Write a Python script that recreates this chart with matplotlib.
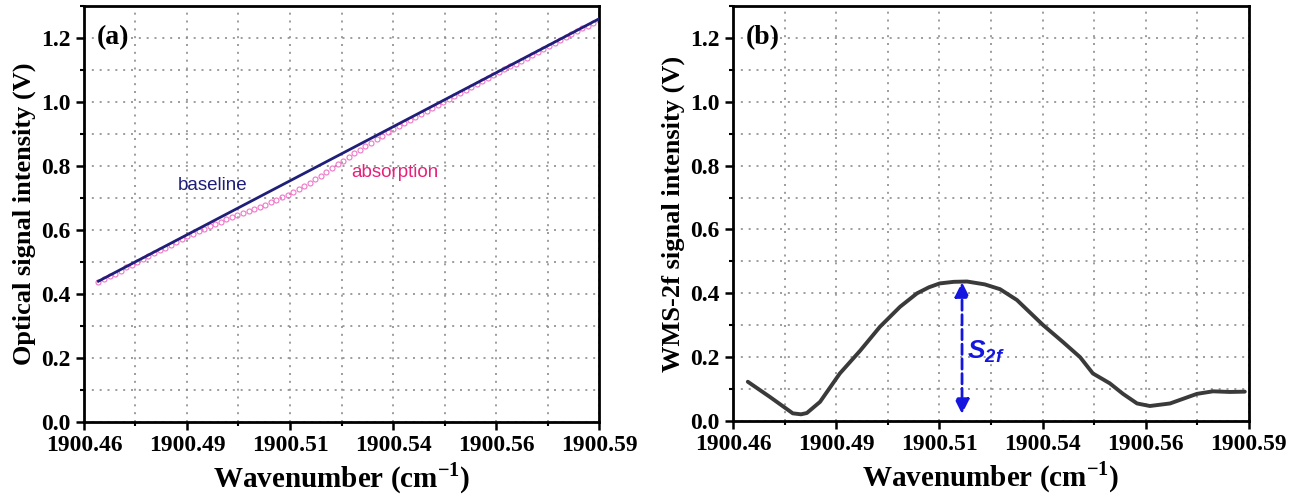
import numpy as np
import matplotlib
matplotlib.use('Agg')
import matplotlib.pyplot as plt
from matplotlib.ticker import FixedLocator, MultipleLocator, FormatStrFormatter

plt.rcParams['font.family'] = 'Liberation Serif'
plt.rcParams['font.weight'] = 'bold'
plt.rcParams['axes.labelweight'] = 'bold'
plt.rcParams['mathtext.fontset'] = 'custom'
plt.rcParams['mathtext.rm'] = 'Liberation Serif:bold'
plt.rcParams['mathtext.sf'] = 'Liberation Sans:italic'
plt.rcParams['mathtext.bf'] = 'Liberation Sans:italic:bold'

# x tick positions and their printed labels
xticks = [1900.4625, 1900.4875, 1900.5125, 1900.5375, 1900.5625, 1900.5875]
xlabels = ['1900.46', '1900.49', '1900.51', '1900.54', '1900.56', '1900.59']

# (a) baseline (straight line) and absorption signal
base_x = [1900.466, 1900.5875]
base_y = [0.44, 1.26]
abs_x = np.linspace(1900.466, 1900.5875, 91)
abs_y = [0.437, 0.446, 0.455, 0.464, 0.473, 0.483, 0.492, 0.501, 0.510, 0.518,
         0.527, 0.536, 0.545, 0.553, 0.563, 0.572, 0.580, 0.589, 0.596, 0.604,
         0.612, 0.619, 0.626, 0.634, 0.641, 0.647, 0.654, 0.660, 0.666, 0.673,
         0.679, 0.686, 0.694, 0.702, 0.710, 0.719, 0.728, 0.738, 0.747, 0.758,
         0.769, 0.781, 0.793, 0.805, 0.816, 0.828, 0.840, 0.851, 0.862, 0.873,
         0.885, 0.895, 0.905, 0.915, 0.925, 0.935, 0.944, 0.954, 0.963, 0.973,
         0.982, 0.991, 1.001, 1.010, 1.019, 1.028, 1.037, 1.046, 1.056, 1.065,
         1.075, 1.084, 1.093, 1.102, 1.111, 1.120, 1.129, 1.139, 1.148, 1.157,
         1.166, 1.175, 1.184, 1.193, 1.202, 1.211, 1.221, 1.230, 1.239, 1.248,
         1.257]

# (b) WMS-2f signal
wms_x = [1900.4661, 1900.4715, 1900.4770, 1900.4790, 1900.4804, 1900.4836,
         1900.4884, 1900.4933, 1900.4981, 1900.5030, 1900.5071, 1900.5100,
         1900.5126, 1900.5160, 1900.5192, 1900.5235, 1900.5272, 1900.5313,
         1900.5376, 1900.5424, 1900.5466, 1900.5497, 1900.5538, 1900.5570,
         1900.5604, 1900.5635, 1900.5684, 1900.5749, 1900.5788, 1900.5829,
         1900.5865]
wms_y = [0.123, 0.075, 0.024, 0.021, 0.025, 0.060,
         0.149, 0.220, 0.295, 0.358, 0.400, 0.419,
         0.431, 0.436, 0.437, 0.428, 0.413, 0.379,
         0.301, 0.248, 0.200, 0.149, 0.118, 0.085,
         0.055, 0.047, 0.055, 0.085, 0.093, 0.091, 0.092]
s2f_x = 1900.518
s2f_top = 0.435
s2f_bot = 0.022

fig = plt.figure(figsize=(13, 4.97), dpi=100)
ax1 = fig.add_axes([0.0646, 0.1509, 0.3962, 0.837])
ax2 = fig.add_axes([0.5638, 0.1529, 0.3969, 0.835])


def style(ax, ylabel, tag):
    ax.set_xlim(1900.4625, 1900.5875)
    ax.set_ylim(0, 1.3)
    ax.xaxis.set_major_locator(FixedLocator(xticks))
    ax.set_xticklabels(xlabels)
    ax.xaxis.set_minor_locator(MultipleLocator(0.0125))
    ax.yaxis.set_major_locator(MultipleLocator(0.2))
    ax.yaxis.set_minor_locator(MultipleLocator(0.1))
    ax.yaxis.set_major_formatter(FormatStrFormatter('%.1f'))
    ax.grid(True, which='both', ls=(0, (1.2, 3.5)), color='#8c8c8c', lw=1.2)
    ax.set_axisbelow(True)
    ax.tick_params(which='major', direction='out', length=6, width=1.8, labelsize=17)
    ax.tick_params(which='minor', direction='out', length=3, width=1.5)
    for s in ax.spines.values():
        s.set_linewidth(2)
    ax.set_xlabel('Wavenumber (cm$^{-1}$)', fontsize=21, labelpad=3)
    ax.set_ylabel(ylabel, fontsize=19, labelpad=4)
    ax.text(0.025, 0.955, tag, transform=ax.transAxes, fontsize=20,
            ha='left', va='top')


style(ax1, 'Optical signal intensity (V)', '(a)')
style(ax2, 'WMS-2f signal intensity (V)', '(b)')

ax1.plot(abs_x, abs_y, 'o', ms=3.6, mfc='none', mec='#f075c8', mew=0.8, zorder=2)
ax1.plot(base_x, base_y, '-', color='#1f1f7a', lw=2, zorder=3)
ax1.text(1900.4938, 0.74, 'baseline', color='#1f1f7a', fontsize=13.5,
         family='Liberation Sans', weight='normal', ha='center', va='center')
ax1.text(1900.538, 0.781, 'absorption', color='#e8207a', fontsize=13.5,
         family='Liberation Sans', weight='normal', ha='center', va='center')

ax2.plot(wms_x, wms_y, '-', color='#3a3a3a', lw=2.8, solid_capstyle='round',
         solid_joinstyle='round')
ax2.annotate('', xy=(s2f_x, s2f_bot), xytext=(s2f_x, s2f_top),
             arrowprops=dict(arrowstyle='<|-|>', ls='--', color='#1515e0',
                             lw=2, mutation_scale=22, shrinkA=0, shrinkB=0))
ax2.text(s2f_x + 0.0013, 0.216, r'$\mathsf{S}_{\mathbf{2f}}$', color='#1515e0',
         fontsize=19, ha='left', va='center')

fig.savefig('out.png', dpi=100)
